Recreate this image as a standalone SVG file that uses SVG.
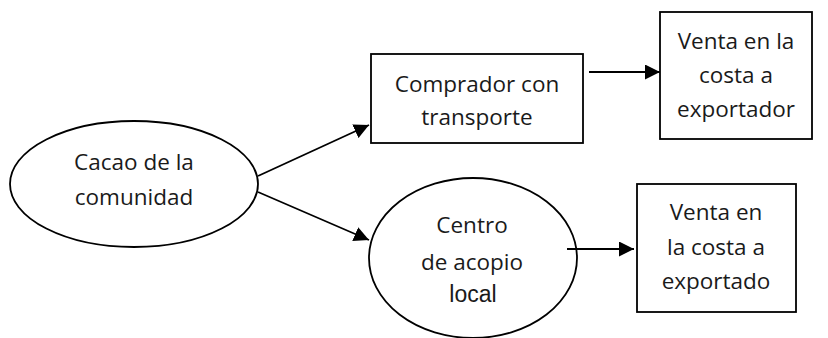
<svg xmlns="http://www.w3.org/2000/svg" width="828" height="338" viewBox="0 0 828 338">
<style>
.s{fill:#fff;stroke:#000;stroke-width:1.8}
.t{font-family:"Open Sans","Noto Sans",sans-serif;font-size:22.5px;fill:#1a1a1a;text-anchor:middle}
.a{font-family:"Liberation Sans",Arial,sans-serif;font-size:23px;fill:#1a1a1a;text-anchor:middle}
.c{stroke:#000;stroke-width:1.8;fill:none;marker-end:url(#ah)}
</style>
<defs>
<marker id="ah" viewBox="0 0 15 15" refX="15" refY="7.5" markerWidth="15" markerHeight="15" markerUnits="userSpaceOnUse" orient="auto">
<path d="M0,0 L15,7.5 L0,15 z" fill="#000"/>
</marker>
</defs>
<rect width="828" height="338" fill="#fff"/>
<g id="cacao">
<ellipse class="s" cx="134" cy="184" rx="124" ry="63"/>
<text class="t" x="134" y="170">Cacao de la</text>
<text class="t" x="134" y="205">comunidad</text>
</g>
<g id="comprador">
<rect class="s" x="371" y="54" width="212" height="89"/>
<text class="t" x="477" y="92">Comprador con</text>
<text class="t" x="477" y="125">transporte</text>
</g>
<g id="venta1">
<rect class="s" x="660" y="12" width="152" height="127"/>
<text class="t" x="736" y="49">Venta en la</text>
<text class="t" x="736" y="83">costa a</text>
<text class="t" x="736" y="117">exportador</text>
</g>
<g id="centro">
<ellipse class="s" cx="473" cy="258" rx="104" ry="80"/>
<text class="t" x="472" y="233">Centro</text>
<text class="t" x="472" y="270">de acopio</text>
<text class="a" x="473" y="302">local</text>
</g>
<g id="venta2">
<rect class="s" x="637" y="184" width="159" height="128"/>
<text class="t" x="716" y="220">Venta en</text>
<text class="t" x="716" y="255">la costa a</text>
<text class="t" x="716" y="289">exportado</text>
</g>
<g id="connectors">
<line class="c" x1="258" y1="176" x2="369" y2="125"/>
<line class="c" x1="258" y1="192" x2="369" y2="240"/>
<line class="c" x1="589" y1="72" x2="660" y2="72"/>
<line class="c" x1="567" y1="249" x2="634" y2="249"/>
</g>
</svg>
